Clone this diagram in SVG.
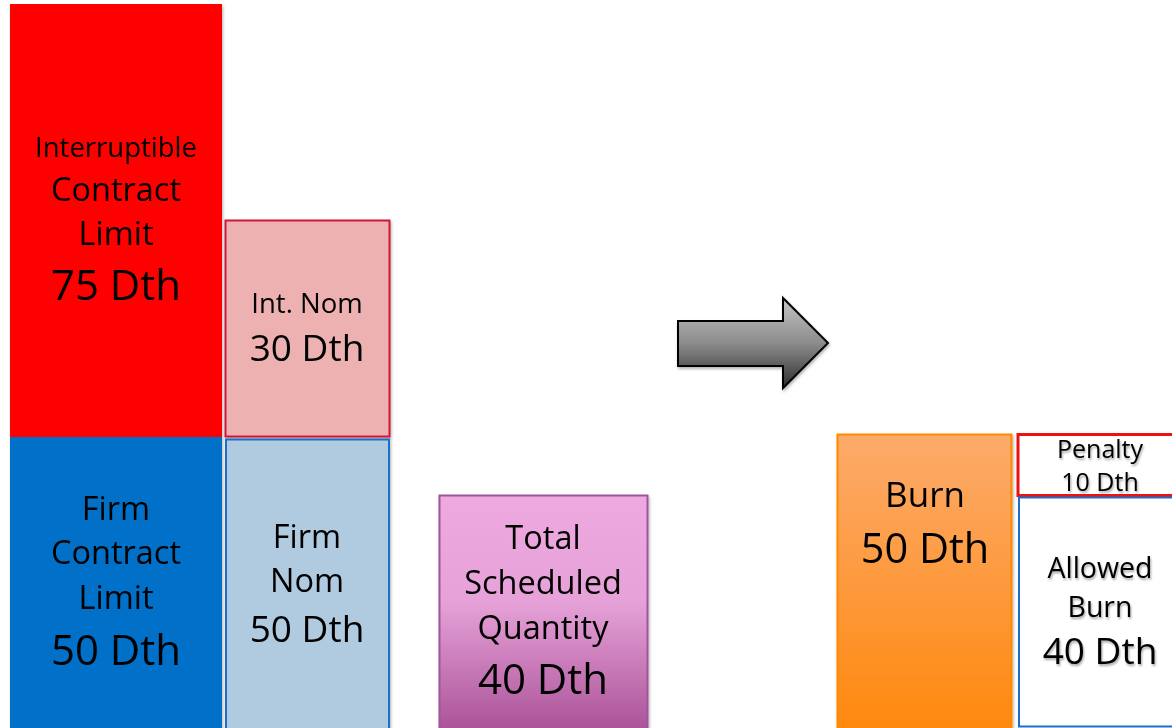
<svg xmlns="http://www.w3.org/2000/svg" width="1172" height="728" viewBox="0 0 1172 728">
<defs>
<linearGradient id="gPink" x1="0" y1="0" x2="0" y2="1">
<stop offset="0" stop-color="#eeaae0"/><stop offset="0.45" stop-color="#e6a2d8"/><stop offset="1" stop-color="#aa5298"/>
</linearGradient>
<linearGradient id="gOrange" x1="0" y1="0" x2="0" y2="1">
<stop offset="0" stop-color="#fcab6c"/><stop offset="1" stop-color="#ff880e"/>
</linearGradient>
<linearGradient id="gArrow" x1="0" y1="0" x2="0" y2="1">
<stop offset="0" stop-color="#c4c4c4"/><stop offset="0.5" stop-color="#8c8c8c"/><stop offset="1" stop-color="#2e2e2e"/>
</linearGradient>
<filter id="sh" x="-10%" y="-10%" width="120%" height="120%">
<feDropShadow dx="1" dy="2" stdDeviation="1.5" flood-color="#000" flood-opacity="0.3"/>
</filter>
<filter id="tsh" x="-10%" y="-20%" width="120%" height="150%">
<feDropShadow dx="1" dy="2" stdDeviation="1.2" flood-color="#000" flood-opacity="0.35"/>
</filter>
</defs>
<style>
text{font-family:"Open Sans","Noto Sans","Liberation Sans",sans-serif;fill:#000;text-anchor:middle}
.s24{font-size:25px}.s26{font-size:27.5px}.s28{font-size:28.5px}.s32{font-size:32.5px}.s36{font-size:37px}.s42{font-size:42px}
</style>
<rect width="1172" height="728" fill="#fff"/>
<g id="interruptible-limit" filter="url(#sh)">
<rect x="10" y="4" width="212" height="433" fill="#ff0000"/>
<text x="116" y="157" class="s26">Interruptible</text>
<text x="116" y="201" class="s32">Contract</text>
<text x="116" y="245" class="s32">Limit</text>
<text x="116" y="300" class="s42">75 Dth</text>
</g>
<g id="firm-limit" filter="url(#sh)">
<rect x="10" y="437" width="212" height="291" fill="#0070c8"/>
<text x="116" y="520" class="s32">Firm</text>
<text x="116" y="564" class="s32">Contract</text>
<text x="116" y="609" class="s32">Limit</text>
<text x="116" y="665" class="s42">50 Dth</text>
</g>
<g id="int-nom" filter="url(#sh)">
<rect x="225.5" y="220.5" width="164" height="216" fill="#edb1b1" stroke="#d01838" stroke-width="2"/>
<text x="307" y="313" class="s26">Int. Nom</text>
<text x="307" y="361" class="s36">30 Dth</text>
</g>
<g id="firm-nom" filter="url(#sh)">
<rect x="226" y="439.5" width="163" height="292" fill="#b0cae0" stroke="#1c6ec8" stroke-width="2"/>
<text x="307" y="548" class="s32">Firm</text>
<text x="307" y="592" class="s32">Nom</text>
<text x="307" y="642" class="s36">50 Dth</text>
</g>
<g id="total-scheduled" filter="url(#sh)">
<rect x="439.5" y="495.5" width="208" height="236" fill="url(#gPink)" stroke="#a0549a" stroke-width="2"/>
<text x="543" y="549" class="s32">Total</text>
<text x="543" y="594" class="s32">Scheduled</text>
<text x="543" y="639" class="s32">Quantity</text>
<text x="543" y="694" class="s42">40 Dth</text>
</g>
<g id="arrow" filter="url(#sh)">
<path d="M678,321 L783,321 L783,298 L828,343 L783,388 L783,366 L678,366 Z" fill="url(#gArrow)" stroke="#000" stroke-width="2" stroke-linejoin="miter"/>
</g>
<g id="burn" filter="url(#sh)">
<rect x="837.5" y="434.5" width="174" height="297" fill="url(#gOrange)" stroke="#ff8a00" stroke-width="2"/>
<text x="925" y="507" style="font-size:35px">Burn</text>
<text x="925" y="563" style="font-size:41.5px">50 Dth</text>
</g>
<g id="penalty">
<rect x="1018" y="434.5" width="160" height="61" fill="#fff" stroke="#ee1111" stroke-width="3"/>
<g filter="url(#tsh)">
<text x="1100" y="458" class="s24">Penalty</text>
<text x="1100" y="491" class="s24">10 Dth</text>
</g>
</g>
<g id="allowed-burn">
<rect x="1019" y="497.5" width="160" height="229" fill="#fff" stroke="#1c6ec8" stroke-width="2"/>
<g filter="url(#tsh)">
<text x="1100" y="578" class="s28">Allowed</text>
<text x="1100" y="617" class="s28">Burn</text>
<text x="1100" y="664" class="s36">40 Dth</text>
</g>
</g>
<g id="connectors"></g>
</svg>
